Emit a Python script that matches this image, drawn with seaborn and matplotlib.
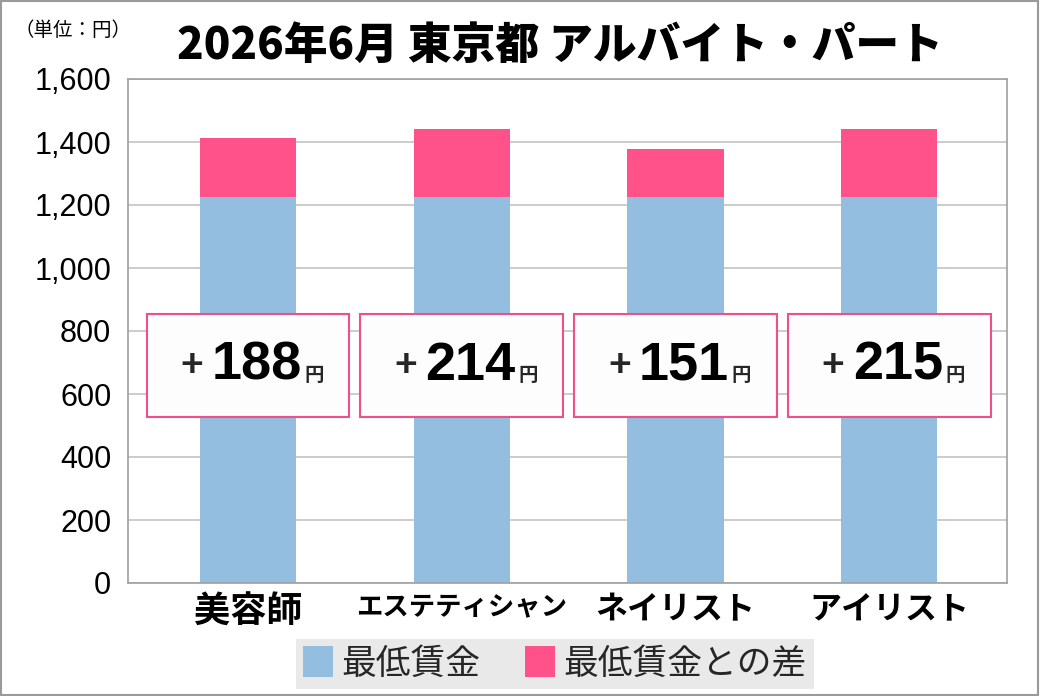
import matplotlib
matplotlib.use("Agg")
import matplotlib.pyplot as plt
import seaborn as sns
import pandas as pd
from matplotlib.patches import Rectangle, Patch
from matplotlib.ticker import FuncFormatter

# ---- data ----
categories = ["美容師", "エステティシャン", "ネイリスト", "アイリスト"]
min_wage = [1226, 1226, 1226, 1226]
diff = [188, 214, 151, 215]
yticks = [0, 200, 400, 600, 800, 1000, 1200, 1400, 1600]
title = "2026年6月 東京都 アルバイト・パート"
unit_label = "（単位：円）"
legend_labels = ["最低賃金", "最低賃金との差"]

BLUE = "#93bedf"
PINK = "#ff528a"
JP = ["Noto Sans CJK JP", "DejaVu Sans"]
NUM = ["Liberation Sans", "DejaVu Sans"]

sns.set_theme(style="white")
plt.rcParams["font.family"] = JP

df = pd.DataFrame({
    "cat": categories,
    "base": min_wage,
    "total": [b + d for b, d in zip(min_wage, diff)],
    "diff": diff,
})

fig = plt.figure(figsize=(10.4, 6.96), dpi=100)
ax = fig.add_axes([128/1040, 1-583/696, (1007-128)/1040, (583-79)/696])

sns.barplot(data=df, x="cat", y="total", color=PINK, width=0.45,
            saturation=1, ax=ax, zorder=2, linewidth=0, edgecolor="none")
sns.barplot(data=df, x="cat", y="base", color=BLUE, width=0.45,
            saturation=1, ax=ax, zorder=2, linewidth=0, edgecolor="none")

ax.set_xlim(-0.56, 3.55)
ax.set_ylim(0, 1600)
ax.set_yticks(yticks)
ax.yaxis.set_major_formatter(FuncFormatter(lambda v, p: f"{int(v):,}"))
ax.grid(axis="y", color="#c4c4c4", linewidth=1.2, zorder=0)
ax.set_axisbelow(True)
for s in ax.spines.values():
    s.set_color("#a0a0a0")
    s.set_linewidth(1.2)
ax.set_xlabel("")
ax.set_ylabel("")
ax.tick_params(axis="y", length=0, pad=12, labelsize=22)
ax.tick_params(axis="x", length=0, pad=8)
for t in ax.get_yticklabels():
    t.set_family(NUM)
    t.set_color("black")

label_sizes = [26, 19, 23, 23]
ax.set_xticks(range(len(categories)))
ax.set_xticklabels(categories)
for t, fs in zip(ax.get_xticklabels(), label_sizes):
    t.set_fontsize(fs)
    t.set_fontweight("bold")
    t.set_color("black")

# difference boxes
for i, d in enumerate(diff):
    rect = Rectangle((i - 0.473, 528), 0.946, 327, facecolor="#fdfdfd",
                     edgecolor="#f0508a", linewidth=1.5, zorder=4)
    ax.add_patch(rect)
    num = ax.text(i + 0.04, 690, f"{d}", ha="center", va="center",
                  fontsize=39, fontweight="bold", family=NUM, zorder=5,
                  color="black")
    ax.annotate("+", xy=(0, 0.5), xycoords=num, xytext=(-6, 0),
                textcoords="offset points", ha="right", va="center",
                fontsize=28, fontweight="bold", family=NUM, zorder=5)
    ax.annotate("円", xy=(1, 0.12), xycoords=num, xytext=(2, 0),
                textcoords="offset points", ha="left", va="bottom",
                fontsize=14, fontweight="bold", family=JP, zorder=5)

fig.text(560/1040, 1-45/696, title, ha="center", va="center",
         fontsize=31.5, fontweight="heavy", family=JP, color="black")
fig.text(14/1040, 1-30/696, unit_label, ha="left", va="center",
         fontsize=14, family=JP, color="black")

handles = [Patch(facecolor=BLUE, edgecolor="none"),
           Patch(facecolor=PINK, edgecolor="none")]
leg = fig.legend(handles, legend_labels, loc="center",
                 bbox_to_anchor=(555/1040, 1-664/696), ncol=2,
                 fontsize=25, frameon=True, fancybox=False,
                 handlelength=0.85, handleheight=1.0, handletextpad=0.25,
                 columnspacing=1.3, borderpad=0.2, borderaxespad=0)
leg.get_frame().set_facecolor("#e4e4e4")
leg.get_frame().set_edgecolor("none")

fig.patches.append(Rectangle((0.001, 0.001), 0.997, 0.997, fill=False,
                             edgecolor="#9a9a9a", linewidth=1.5,
                             transform=fig.transFigure, figure=fig))

fig.savefig("out.png", dpi=100, facecolor="white")
